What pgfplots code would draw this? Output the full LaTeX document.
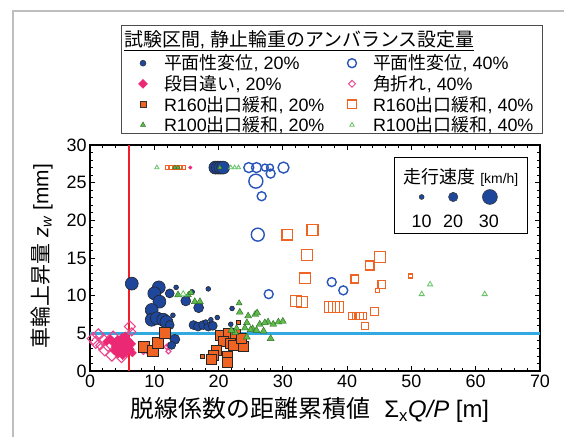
\documentclass[border=0pt]{standalone}
\usepackage{pgfplots}
\pgfplotsset{compat=1.18}
\usepackage{fontspec}
\setmainfont{Liberation Sans}
\newfontfamily\cjk{Noto Sans CJK JP}
\newcommand{\J}[1]{{\cjk #1}}
\newcommand{\fs}[1]{\fontsize{#1}{#1}\selectfont}
\newcommand{\cA}[1]{\makebox[165bp][l]{#1}}
\definecolor{cblue}{RGB}{30,70,155}
\definecolor{cblueO}{RGB}{40,85,185}
\definecolor{cpink}{RGB}{235,40,115}
\definecolor{cpinkO}{RGB}{235,70,140}
\definecolor{corange}{RGB}{240,100,35}
\definecolor{cgreen}{RGB}{95,185,75}
\definecolor{cgreenD}{RGB}{40,110,40}
\definecolor{cgreenO}{RGB}{100,195,100}
\definecolor{cred}{RGB}{240,30,40}
\definecolor{ccyan}{RGB}{50,170,225}
\definecolor{cframe}{RGB}{190,190,190}
\pgfdeclareplotmark{dia}{%
  \pgfpathmoveto{\pgfqpoint{0pt}{\pgfplotmarksize}}%
  \pgfpathlineto{\pgfqpoint{\pgfplotmarksize}{0pt}}%
  \pgfpathlineto{\pgfqpoint{0pt}{-\pgfplotmarksize}}%
  \pgfpathlineto{\pgfqpoint{-\pgfplotmarksize}{0pt}}%
  \pgfpathclose\pgfusepathqstroke}
\pgfdeclareplotmark{dia*}{%
  \pgfpathmoveto{\pgfqpoint{0pt}{\pgfplotmarksize}}%
  \pgfpathlineto{\pgfqpoint{\pgfplotmarksize}{0pt}}%
  \pgfpathlineto{\pgfqpoint{0pt}{-\pgfplotmarksize}}%
  \pgfpathlineto{\pgfqpoint{-\pgfplotmarksize}{0pt}}%
  \pgfpathclose\pgfusepathqfillstroke}
\pgfplotsset{
  sz/.style={scatter, only marks, forget plot,
    visualization depends on={\thisrow{s}\as\ms}},
  msz/.style={scatter/@pre marker code/.append style={/tikz/mark size=\ms}},
  lgi/.style={legend image code/.code={\path[draw=none, fill=none] (0bp,-2bp) rectangle (18bp,2bp); \draw[##1] plot coordinates {(9bp,0bp)};}},
}
\begin{document}
\begin{tikzpicture}
\begin{axis}[
  name=main, scale only axis,
  width=450bp, height=226bp,
  xmin=0, xmax=70, ymin=0, ymax=30,
  xtick={0,10,...,70}, ytick={0,5,...,30},
  minor x tick num=4, minor y tick num=4,
  tick align=inside, tick pos=both, ticklabel pos=left,
  major tick length=5bp, minor tick length=3bp,
  axis line style={line width=1.2bp, black},
  every tick/.style={black, line width=0.8bp},
  tick label style={font=\fs{18}},
  /pgf/number format/assume math mode=true,
  clip=false,
  xlabel={\J{脱線係数の距離累積値}\hspace{0.6em}Σ\textsubscript{x}{\itshape Q/P} [m]},
  xlabel style={font=\fs{24}, at={(axis description cs:0.489,-0.1726)}, anchor=center},
  ylabel={\J{車輪上昇量} {\itshape z}\textsubscript{\itshape w} [mm]},
  ylabel style={font=\fs{21}, at={(axis description cs:-0.107,0.509)}, anchor=center},
  legend columns=2,
  legend cell align=left,
  legend style={at={(axis description cs:0.0978,1.403)}, anchor=north west,
    draw=none, fill=none, inner sep=0pt, outer sep=0pt, row sep=2bp,
    nodes={inner sep=1bp, outer sep=0pt}, font=\fs{18},
    /tikz/every odd column/.append style={column sep=11bp},
    /tikz/every even column/.append style={column sep=13bp}},
]
% legend images
\addlegendimage{lgi, only marks, mark=*, mark size=3, mark options={draw=black!80, fill=cblue, line width=0.5bp}}
\addlegendentry{\cA{\J{平面性変位}, 20\%}}
\addlegendimage{lgi, only marks, mark=o, mark size=4.5, mark options={draw=cblueO, line width=1.4bp}}
\addlegendentry{\J{平面性変位}, 40\%}
\addlegendimage{lgi, only marks, mark=dia*, mark size=4.5, mark options={draw=cpink, fill=cpink}}
\addlegendentry{\cA{\J{段目違い}, 20\%}}
\addlegendimage{lgi, only marks, mark=dia, mark size=3.5, mark options={draw=cpinkO, line width=1bp}}
\addlegendentry{\J{角折れ}, 40\%}
\addlegendimage{lgi, only marks, mark=square*, mark size=3, mark options={draw=black!80, fill=corange, line width=0.5bp}}
\addlegendentry{\cA{R160\J{出口緩和}, 20\%}}
\addlegendimage{lgi, only marks, mark=square, mark size=4.5, mark options={draw=corange, line width=1.3bp}}
\addlegendentry{R160\J{出口緩和}, 40\%}
\addlegendimage{lgi, only marks, mark=triangle*, mark size=3, mark options={draw=cgreenD, fill=cgreen, line width=0.4bp}}
\addlegendentry{\cA{R100\J{出口緩和}, 20\%}}
\addlegendimage{lgi, only marks, mark=triangle, mark size=2.5, mark options={draw=cgreenO, line width=0.8bp}}
\addlegendentry{R100\J{出口緩和}, 40\%}

% pink open diamonds (角折れ 40%)
\addplot[sz, mark=dia, scatter/use mapped color={draw=cpinkO, fill=none}, msz, line width=1.1bp] table {
x y s
0.5 4.3 6
1.3 4.8 6
2.1 4.1 6
2.8 3.4 6
3.6 4.5 6
2.3 2.8 6
3.4 2.1 6
4.9 1.9 6
6.2 5.9 5.5
6.5 5.2 4
6.0 3.4 4
8.3 2.8 4.5
9.1 2.6 4
12.2 3.4 2.5
11.9 3.2 2.5
12.2 2.6 2.5
1.6 3.4 4.5
0.9 3.8 6
4.4 3.4 6
5.4 3.0 4.5
};
% pink filled diamonds (段目違い 20%)
\addplot[sz, mark=dia*, scatter/use mapped color={draw=cpink, fill=cpink}, msz, line width=0.4bp] table {
x y s
3.6 3.8 4.5
4.0 3.2 4.5
4.3 4.1 4.5
4.6 2.8 4.5
4.8 3.6 4.5
5.0 4.4 4.5
5.2 3.0 4.5
5.4 3.9 4.5
5.6 2.5 4.5
5.8 3.4 4.5
6.0 4.0 4.5
6.2 2.9 4.5
4.4 2.3 4.5
5.1 2.1 4.5
3.8 2.7 4.5
6.4 3.6 4.5
5.5 4.6 4.5
3.2 4.2 4.5
2.6 3.9 4
6.6 2.4 4
15.6 27.0 1.8
};
% red vertical line
\addplot[cred, line width=2bp, forget plot] coordinates {(6,0) (6,30)};
% blue filled circles (平面性変位 20%)
\addplot[sz, mark=*, scatter/use mapped color={draw=black!85, fill=cblue}, msz, line width=0.6bp] table {
x y s
6.5 11.6 6.5
10.7 11.1 6.5
10.0 10.3 6.5
10.8 9.2 6.5
12.4 10.3 4.5
13.4 11.1 2.4
14.9 9.3 5
16.9 8.4 5
9.6 8.1 6.5
9.6 6.8 6.5
10.4 7.0 6.5
11.4 6.8 6.5
11.9 6.5 6.5
12.4 6.1 4.5
12.9 7.4 2.4
13.2 4.2 5
12.7 3.4 4
16.1 6.1 4.5
16.8 5.9 4.5
17.6 6.1 4.5
18.4 5.9 4.5
19.1 6.0 4.5
18.4 10.9 2.4
15.9 10.5 2.4
22.1 8.3 2.4
21.9 6.2 2.4
19.8 7.1 2.4
18.8 6.8 2.4
18.0 6.5 2.4
19.5 27.0 6.5
19.9 27.0 6.5
20.3 27.0 6.5
20.7 27.0 6.5
};
% blue open circles (平面性変位 40%)
\addplot[sz, mark=o, scatter/use mapped color={draw=cblueO, fill=none}, msz, line width=1.4bp] table {
x y s
24.7 27.0 5
25.9 27.0 5
27.2 27.0 3.5
28.0 27.0 3.5
30.1 27.0 5.5
25.8 25.2 7
28.1 26.2 4.5
26.7 23.2 4.5
26.1 18.1 6.5
27.8 10.2 4.5
37.6 11.8 4.5
39.4 10.7 4.5
};
% orange filled squares (R160 20%)
\addplot[sz, mark=square*, scatter/use mapped color={draw=black!85, fill=corange}, msz, line width=0.6bp] table {
x y s
8.3 3.2 5.5
9.7 2.7 5.5
10.6 3.8 5.5
11.7 5.1 5.5
17.4 1.9 2
20.2 4.8 5
21.5 5.0 5
22.6 4.9 5
20.7 3.9 5
21.8 3.7 5
22.3 3.4 5
23.8 3.3 5
23.5 4.4 5
19.7 2.8 5
19.2 2.1 5
18.9 1.5 5
21.4 1.9 5
21.4 1.2 5
23.0 6.4 2
};
% orange open squares (R160 40%)
\addplot[sz, mark=square, scatter/use mapped color={draw=corange, fill=none}, msz, line width=1.3bp] table {
x y s
30.7 18.1 5.5
34.6 18.7 5.5
33.8 15.4 5.5
33.4 12.3 5.5
32.0 9.3 5.5
33.0 9.2 5.5
37.3 8.5 5.5
38.0 8.5 5.5
38.6 8.5 5.5
41.2 12.2 4
43.5 14.0 4.5
45.1 15.1 5.5
45.4 11.5 4
44.7 10.7 2
44.3 7.9 4
40.7 7.3 3.5
41.4 7.3 3.5
42.0 7.3 3.5
42.5 7.3 3.5
42.8 6.0 3.5
49.9 12.6 2
12.1 27.0 2
12.6 27.0 2
13.1 27.0 2
13.6 27.0 2
14.1 27.0 2
14.6 27.0 2
};
% green filled triangles (R100 20%)
\addplot[sz, mark=triangle*, scatter/use mapped color={draw=cgreenD, fill=cgreen}, msz, line width=0.4bp] table {
x y s
13.7 10.1 4
15.3 10.1 3.5
15.7 10.4 3.5
16.3 9.2 4
17.1 9.2 4
23.2 9.0 3.5
23.3 7.8 4
24.6 7.3 4
25.7 7.5 4
26.0 7.7 4
24.4 6.4 4
25.3 5.6 4
26.4 6.2 4
27.0 5.3 4
27.7 6.5 4
28.5 6.2 4
29.3 6.5 4
30.0 6.6 4
28.1 4.3 4
22.6 5.1 4
22.0 5.4 4
22.8 5.7 3.5
24.1 5.7 4
25.0 5.5 4
25.9 5.4 4
24.4 4.5 4
27.2 6.4 4
13.2 27.0 2.5
13.7 27.0 2.5
20.2 27.0 2.5
};
% green open triangles (R100 40%)
\addplot[sz, mark=triangle, scatter/use mapped color={draw=cgreenO, fill=none}, msz, line width=0.8bp] table {
x y s
52.9 11.5 3
51.6 10.2 3
61.4 10.2 3
10.4 27.0 2.5
21.9 27.0 2.5
22.5 27.0 2.5
23.1 27.0 2.5
14.5 10.2 3.5
};
% cyan horizontal line
\addplot[ccyan, line width=2.5bp, forget plot] coordinates {(0,5) (70,5)};
% speed key (marker sizes by running speed)
\draw[line width=1bp, black] (axis description cs:0.67556,0.60619) rectangle (axis description cs:0.97333,0.94248);
\addplot[only marks, forget plot, mark=*, mark size=2.5, mark options={draw=black!80, fill=cblue, line width=0.5bp}] coordinates {(51.59,23.1)};
\addplot[only marks, forget plot, mark=*, mark size=4.7, mark options={draw=black!80, fill=cblue, line width=0.5bp}] coordinates {(56.50,23.1)};
\addplot[only marks, forget plot, mark=*, mark size=7.5, mark options={draw=black!80, fill=cblue, line width=0.5bp}] coordinates {(62.21,23.1)};
\node[font=\fs{18}] at (axis description cs:0.82444,0.85841) {\J{走行速度} {\fs{14}[km/h]}};
\node[font=\fs{18}] at (axis cs:51.59,19.9) {10};
\node[font=\fs{18}] at (axis cs:56.50,19.9) {20};
\node[font=\fs{18}] at (axis cs:62.05,19.9) {30};
% legend frame and title
\draw[line width=0.8bp, black!70] (axis description cs:0.0689,1.0531) rectangle (axis description cs:1.00444,1.53097);
\node[anchor=base west, font=\fs{19}, inner sep=0pt] at (axis description cs:0.0756,1.4372) {\underline{\J{試験区間}, \J{静止輪重のアンバランス設定量}}};
% outer frame
\draw[color=cframe, line width=1.8bp] (axis description cs:-0.17178,-0.29425) -- (axis description cs:-0.17178,1.59425) -- (axis description cs:1.05333,1.59425);
% page extent
\path (axis description cs:-0.2,-0.30088) rectangle (axis description cs:1.05778,1.64159);
\end{axis}
\end{tikzpicture}
\end{document}
